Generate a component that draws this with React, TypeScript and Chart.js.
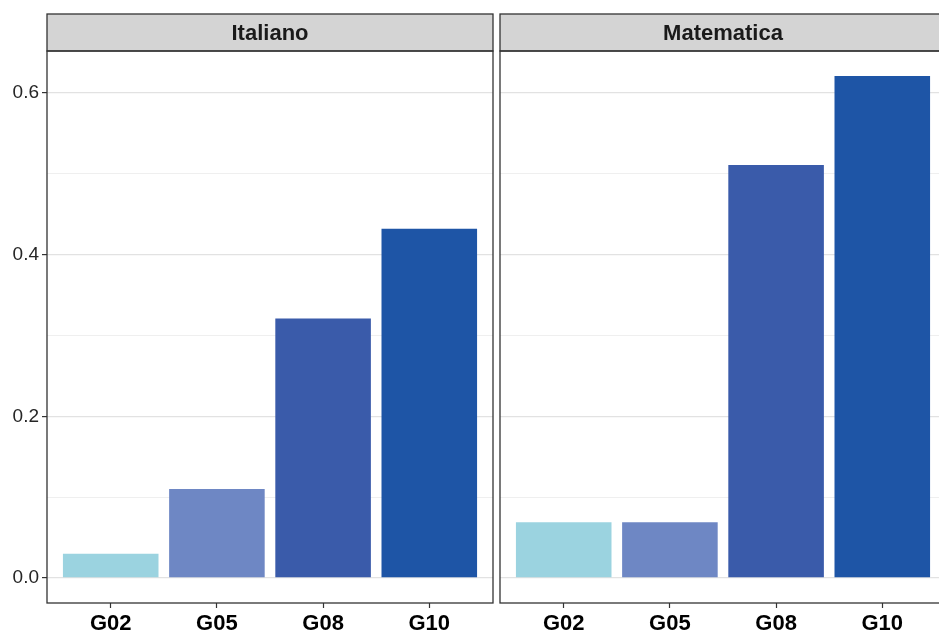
import React, { useEffect, useRef } from "react";
import { Chart, registerables } from "chart.js";
Chart.register(...registerables);

const categories = ["G02", "G05", "G08", "G10"];
const italianoValues = [0.03, 0.11, 0.321, 0.432];
const matematicaValues = [0.069, 0.069, 0.511, 0.621];
const barColors = ["#9BD3E0", "#6E87C4", "#3A5BAA", "#1E55A6"];
const panelTitles = ["Italiano", "Matematica"];
const yTickValues = [0, 0.1, 0.2, 0.3, 0.4, 0.5, 0.6];
const yMin = -0.031;
const yMax = 0.652;

const FONT = "'Liberation Sans', Arial, sans-serif";

const isMajor = (v: number) => Math.round(v * 10) % 2 === 0;

function panelPlugin(title: string) {
  return {
    id: "panelFrame",
    afterDraw(chart: any) {
      const { ctx, chartArea: a } = chart;
      const stripTop = a.top - 37;
      ctx.save();
      ctx.fillStyle = "#D4D4D4";
      ctx.fillRect(a.left, stripTop, a.right - a.left, a.top - stripTop);
      ctx.strokeStyle = "#333333";
      ctx.lineWidth = 1.3;
      ctx.strokeRect(a.left, stripTop, a.right - a.left, a.top - stripTop);
      ctx.strokeRect(a.left, a.top, a.right - a.left, a.bottom - a.top);
      ctx.fillStyle = "#1A1A1A";
      ctx.font = `bold 22px ${FONT}`;
      ctx.textAlign = "center";
      ctx.textBaseline = "middle";
      ctx.fillText(title, (a.left + a.right) / 2, (stripTop + a.top) / 2 + 1);
      ctx.restore();
    },
  };
}

function makeConfig(values: number[], title: string, showY: boolean): any {
  return {
    type: "bar",
    data: {
      datasets: [
        {
          data: values.map((v, i) => ({ x: i + 1, y: v })),
          backgroundColor: barColors,
          borderWidth: 0,
          barPercentage: 0.9,
          categoryPercentage: 1,
        },
      ],
    },
    options: {
      responsive: false,
      animation: false,
      layout: {
        padding: showY
          ? { top: 51, right: 4, left: 0, bottom: 0 }
          : { top: 51, right: 4, left: 4, bottom: 0 },
      },
      plugins: { legend: { display: false }, tooltip: { enabled: false } },
      scales: {
        x: {
          type: "linear",
          min: 0.4,
          max: 4.6,
          offset: false,
          afterBuildTicks: (scale: any) => {
            scale.ticks = categories.map((_, i) => ({ value: i + 1 }));
          },
          afterFit: (scale: any) => {
            scale.height = 31;
          },
          ticks: {
            autoSkip: false,
            maxRotation: 0,
            padding: 3,
            color: "#000000",
            font: { family: FONT, size: 22, weight: "bold" },
            callback: (v: number) => categories[Math.round(v) - 1] ?? "",
          },
          grid: {
            offset: false,
            drawOnChartArea: false,
            drawTicks: true,
            tickLength: 5,
            tickColor: "#333333",
            tickWidth: 1.2,
          },
          border: { display: false },
        },
        y: {
          type: "linear",
          min: yMin,
          max: yMax,
          afterBuildTicks: (scale: any) => {
            scale.ticks = yTickValues.map((v) => ({ value: v }));
          },
          afterFit: (scale: any) => {
            scale.width = showY ? 47 : 0;
          },
          ticks: {
            display: showY,
            padding: 3,
            color: "#262626",
            font: { family: FONT, size: 19 },
            callback: (v: number) => (isMajor(v) ? v.toFixed(1) : ""),
          },
          grid: {
            drawTicks: showY,
            tickLength: 5,
            color: (ctx: any) => (ctx.tick && isMajor(ctx.tick.value) ? "#E2E2E2" : "#EBEBEB"),
            lineWidth: (ctx: any) => (ctx.tick && isMajor(ctx.tick.value) ? 1.2 : 0.8),
            tickColor: (ctx: any) =>
              ctx.tick && isMajor(ctx.tick.value) ? "#333333" : "rgba(0,0,0,0)",
            tickWidth: 1.2,
          },
          border: { display: false },
        },
      },
    },
    plugins: [panelPlugin(title)],
  };
}

export default function App() {
  const leftRef = useRef<HTMLCanvasElement>(null);
  const rightRef = useRef<HTMLCanvasElement>(null);

  useEffect(() => {
    const c1 = new Chart(leftRef.current!, makeConfig(italianoValues, panelTitles[0], true));
    const c2 = new Chart(rightRef.current!, makeConfig(matematicaValues, panelTitles[1], false));
    return () => {
      c1.destroy();
      c2.destroy();
    };
  }, []);

  return (
    <div
      style={{
        position: "fixed",
        left: 0,
        top: 0,
        width: 939,
        height: 634,
        overflow: "hidden",
        background: "#ffffff",
      }}
    >
      <canvas
        ref={leftRef}
        width={497}
        height={634}
        style={{ position: "absolute", left: 0, top: 0, width: 497, height: 634 }}
      />
      <canvas
        ref={rightRef}
        width={454}
        height={634}
        style={{ position: "absolute", left: 496, top: 0, width: 454, height: 634 }}
      />
    </div>
  );
}
